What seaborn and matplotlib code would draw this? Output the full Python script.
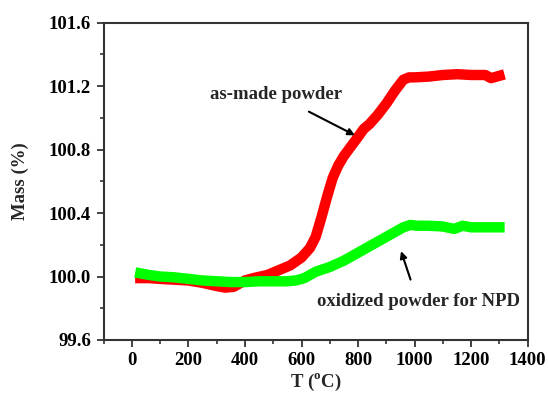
import matplotlib
matplotlib.use("Agg")
import matplotlib.pyplot as plt
from matplotlib import font_manager
from matplotlib.ticker import MultipleLocator
import pandas as pd
import seaborn as sns

# Thermogravimetric mass change on heating in air
temp_asmade = [30, 60, 100, 150, 200, 250, 300, 330, 360, 400, 430, 480, 520,
               560, 600, 630, 650, 670, 690, 710, 730, 750, 775, 800, 820, 840,
               870, 900, 930, 960, 980, 1000, 1050, 1100, 1150, 1200, 1250,
               1270, 1300]
mass_asmade = [99.99, 99.99, 99.985, 99.98, 99.975, 99.96, 99.94, 99.93,
               99.935, 99.975, 99.99, 100.01, 100.04, 100.07, 100.12, 100.18,
               100.25, 100.37, 100.50, 100.62, 100.70, 100.76, 100.82, 100.88,
               100.93, 100.96, 101.02, 101.09, 101.17, 101.24, 101.255,
               101.255, 101.26, 101.27, 101.275, 101.27, 101.27, 101.25,
               101.265]

temp_oxid = [30, 60, 100, 150, 200, 250, 300, 350, 400, 450, 500, 550, 580,
             610, 650, 700, 750, 800, 850, 900, 930, 960, 985, 1010, 1050,
             1100, 1140, 1170, 1200, 1250, 1300]
mass_oxid = [100.02, 100.01, 100.0, 99.995, 99.985, 99.975, 99.97, 99.965,
             99.965, 99.97, 99.97, 99.97, 99.975, 99.99, 100.03, 100.06,
             100.10, 100.15, 100.20, 100.25, 100.28, 100.31, 100.325, 100.32,
             100.32, 100.315, 100.30, 100.32, 100.31, 100.31, 100.31]

x_ticks = [0, 200, 400, 600, 800, 1000, 1200, 1400]
y_ticks = [99.6, 100.0, 100.4, 100.8, 101.2, 101.6]

sns.set_style("ticks")

# bold serif face for every text
bold_path = None
for path in font_manager.findSystemFonts():
    if path.endswith("LiberationSerif-Bold.ttf"):
        bold_path = path
        break
if bold_path:
    font_manager.fontManager.addfont(bold_path)
    bold = font_manager.FontProperties(fname=bold_path, size=13.5)
else:
    bold = font_manager.FontProperties(family="serif", weight="bold", size=13.5)

plt.rcParams["font.family"] = ["Liberation Serif", "DejaVu Serif"]
plt.rcParams["font.weight"] = "bold"
plt.rcParams["mathtext.fontset"] = "custom"
plt.rcParams["mathtext.rm"] = "Liberation Serif:bold"
plt.rcParams["mathtext.bf"] = "Liberation Serif:bold"
plt.rcParams["mathtext.default"] = "bf"

fig = plt.figure(figsize=(5.48, 3.97), dpi=100)
ax = fig.add_axes([0.189, 0.1436, 0.774, 0.7994])

df_a = pd.DataFrame({"T": temp_asmade, "Mass": mass_asmade})
df_o = pd.DataFrame({"T": temp_oxid, "Mass": mass_oxid})

line_kw = dict(lw=7.5, solid_capstyle="projecting", solid_joinstyle="round")
sns.lineplot(data=df_a, x="T", y="Mass", ax=ax, color="#ff0000", zorder=3,
             **line_kw)
sns.lineplot(data=df_o, x="T", y="Mass", ax=ax, color="#00ff00", zorder=4,
             **line_kw)

ax.set_xlim(-100, 1400)
ax.set_ylim(99.6, 101.6)
ax.set_xticks(x_ticks)
ax.set_yticks(y_ticks)
ax.set_xticklabels([str(t) for t in x_ticks], fontproperties=bold)
ax.set_yticklabels([f"{t:.1f}" for t in y_ticks], fontproperties=bold)
ax.xaxis.set_minor_locator(MultipleLocator(100))
ax.yaxis.set_minor_locator(MultipleLocator(0.2))
ax.tick_params(axis="both", which="major", direction="out", length=5,
               width=1.3, colors="#333333", labelcolor="black", pad=4)
ax.tick_params(axis="both", which="minor", direction="out", length=3,
               width=1.2, colors="#333333")
for sp in ax.spines.values():
    sp.set_visible(True)
    sp.set_linewidth(1.5)
    sp.set_color("#333333")

ax.set_xlabel(r"T ($^{\mathregular{o}}$C)", fontproperties=bold, labelpad=2)
ax.set_ylabel("Mass (%)", fontproperties=bold, labelpad=14)

ax.annotate("as-made powder", xy=(789, 100.89), xytext=(510, 101.145),
            ha="center", va="center", fontproperties=bold,
            arrowprops=dict(arrowstyle="-|>", color="black", lw=1.5,
                            mutation_scale=10, shrinkA=8, shrinkB=0))
ax.annotate("oxidized powder for NPD", xy=(952, 100.16), xytext=(1012, 99.84),
            ha="center", va="center", fontproperties=bold,
            arrowprops=dict(arrowstyle="-|>", color="black", lw=1.5,
                            mutation_scale=10, shrinkA=8, shrinkB=0))

fig.savefig("out.png", dpi=100)
